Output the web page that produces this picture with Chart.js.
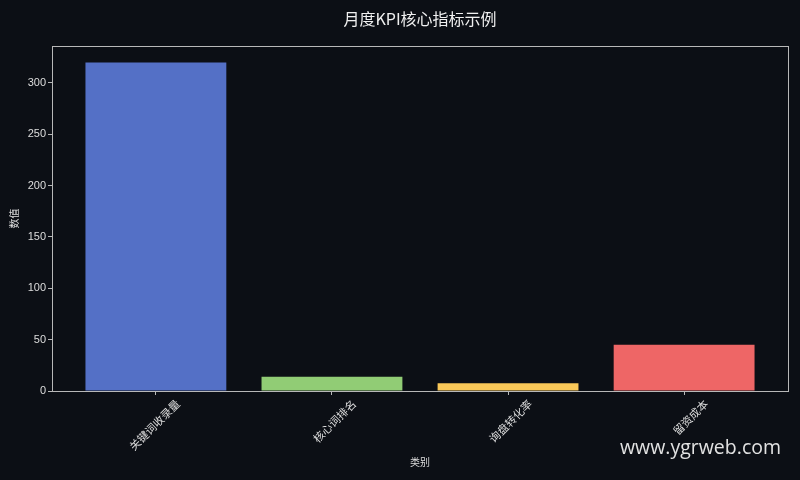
<!DOCTYPE html>
<html>
<head>
<meta charset="utf-8">
<script src="https://cdn.jsdelivr.net/npm/chart.js@4"></script>
<style>
  html, body { margin: 0; padding: 0; background: #0c0f15; }
  #wrap { width: 800px; height: 480px; }
</style>
</head>
<body>
<div id="wrap"><canvas id="myChart"></canvas></div>
<script>
const categories = ['关键词收录量', '核心词排名', '询盘转化率', '留资成本'];
const values = [320, 14, 7.5, 45];
const barColors = ['#5470c6', '#91cc75', '#fac858', '#ee6666'];
const yTicks = [0, 50, 100, 150, 200, 250, 300];
const chartTitle = '月度KPI核心指标示例';

const FONT = '"Noto Sans CJK SC", "DejaVu Sans", sans-serif';
const axisColor = '#b8b8b8';

// frame round the plot, title centred on the plot, watermark
const framePlugin = {
    id: 'frame',
    afterDraw(chart) {
        const ctx = chart.ctx;
        const a = chart.chartArea;
        ctx.save();
        ctx.strokeStyle = axisColor;
        ctx.lineWidth = 1;
        ctx.strokeRect(Math.round(a.left) + 0.5, Math.round(a.top) + 0.5,
            Math.round(a.right - a.left), Math.round(a.bottom - a.top));

        ctx.fillStyle = '#f0f0f0';
        ctx.font = '16px ' + FONT;
        ctx.textAlign = 'center';
        ctx.textBaseline = 'middle';
        ctx.fillText(chartTitle, (a.left + a.right) / 2, 19);

        ctx.fillStyle = '#e2e2e2';
        ctx.font = '19.5px "Open Sans", sans-serif';
        ctx.textAlign = 'right';
        ctx.fillText('www.ygrweb.com', 781, 448);
        ctx.restore();
    }
};

const ctx = document.getElementById('myChart');
const chart = new Chart(ctx, {
    type: 'bar',
    data: {
        datasets: [{
            data: values.map((v, i) => ({ x: i, y: v })),
            backgroundColor: barColors,
            borderWidth: 0,
            barPercentage: 0.8,
            categoryPercentage: 1.0
        }]
    },
    options: {
        responsive: true,
        maintainAspectRatio: false,
        animation: false,
        layout: { padding: { left: 0, right: 12, top: 46, bottom: 0 } },
        plugins: {
            legend: { display: false },
            tooltip: { enabled: false },
            title: { display: false }
        },
        scales: {
            x: {
                type: 'linear',
                offset: false,
                min: -0.59,
                max: 3.59,
                afterBuildTicks: (scale) => {
                    scale.ticks = categories.map((c, i) => ({ value: i }));
                },
                afterFit: (scale) => { scale.height = 89; },
                border: { display: false },
                grid: { offset: false, drawOnChartArea: false, drawTicks: true, tickLength: 4, color: axisColor },
                ticks: {
                    autoSkip: false,
                    minRotation: 45,
                    maxRotation: 45,
                    labelOffset: 22,
                    padding: 2,
                    color: '#dddddd',
                    font: { family: FONT, size: 11 },
                    callback: (v) => categories[v] ?? ''
                },
                title: {
                    display: true,
                    text: '类别',
                    color: '#dddddd',
                    font: { family: FONT, size: 10 },
                    padding: { top: 0, bottom: 12 }
                }
            },
            y: {
                min: 0,
                max: 336,
                afterBuildTicks: (scale) => {
                    scale.ticks = yTicks.map(v => ({ value: v }));
                },
                afterFit: (scale) => { scale.width = 52; },
                border: { display: false },
                grid: { drawOnChartArea: false, drawTicks: true, tickLength: 4, color: axisColor },
                ticks: {
                    padding: 2,
                    color: '#dddddd',
                    font: { family: 'Arial, "Liberation Sans", sans-serif', size: 11 }
                },
                title: {
                    display: true,
                    text: '数值',
                    color: '#dddddd',
                    font: { family: FONT, size: 10 },
                    padding: { top: 8, bottom: 0 }
                }
            }
        }
    },
    plugins: [framePlugin]
});
</script>
</body>
</html>
